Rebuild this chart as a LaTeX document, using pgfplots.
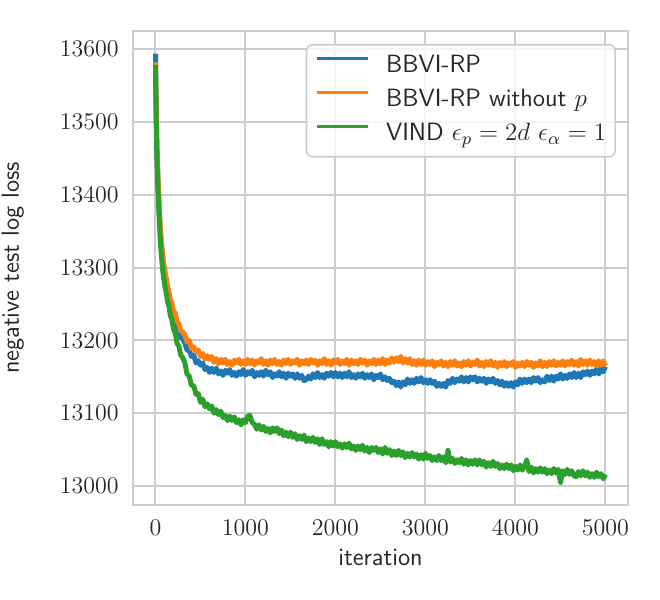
\documentclass[border=0pt]{standalone}
\usepackage{fix-cm}
\usepackage{pgfplots}
\pgfplotsset{compat=1.18}

\definecolor{tabblue}{RGB}{31,119,180}
\definecolor{taborange}{RGB}{255,127,14}
\definecolor{tabgreen}{RGB}{44,160,44}
\definecolor{gridgray}{RGB}{204,204,204}
\definecolor{txt}{RGB}{38,38,38}

\begin{document}
\begin{tikzpicture}
\begin{axis}[
  at={(0,0)}, anchor=south west,
  scale only axis,
  width=247.5pt, height=237pt,
  xmin=-250, xmax=5250,
  ymin=12974, ymax=13625,
  xtick={0,1000,2000,3000,4000,5000},
  ytick={13000,13100,13200,13300,13400,13500,13600},
  scaled ticks=false,
  /pgf/number format/1000 sep={},
  major tick length=0pt,
  grid=major,
  major grid style={draw=gridgray, line width=1pt},
  axis line style={draw=gridgray, line width=1pt},
  tick label style={font=\fontsize{12}{14}\selectfont, text=txt},
  yticklabel style={anchor=east, inner sep=0pt, xshift=-7pt},
  xticklabel style={anchor=north, inner sep=0pt, yshift=-7.5pt},
  xlabel={iteration},
  ylabel={negative test log loss},
  label style={font=\sffamily\fontsize{12.4}{15}\selectfont, text=txt},
  xlabel style={at={(axis description cs:0.5,0)}, anchor=base, yshift=-30.5pt},
  % the y label is already turned by 90 degrees, so its own y direction points left
  ylabel style={at={(axis description cs:0,0.5)}, anchor=base, yshift=57pt},
  legend style={
    at={(0.9757,0.9726)}, anchor=north east,
    draw=gridgray, line width=0.8pt, rounded corners=3pt,
    fill=white, fill opacity=0.8, text opacity=1,
    font=\sffamily\fontsize{12.5}{15}\selectfont, text=txt,
    inner xsep=4.5pt, inner ysep=5pt, row sep=5pt,
    nodes={inner sep=0pt, text height=9pt, text depth=3pt},
    /tikz/every odd column/.append style={column sep=8.5pt},
  },
  legend cell align=left,
  legend image code/.code={\draw[#1, line width=1.35pt] (0pt,4pt) -- (25.5pt,4pt);},
  every axis plot/.append style={line width=2.5pt, line join=round},
]

% BBVI-RP
\addplot[tabblue, no markers] coordinates {
(0,13594)(5,13540)(10,13498)(15,13468)(20,13446)(25,13428)(30,13412)(40,13382)(50,13358)(60,13340)(70,13325)(80,13313)(90,13303)(100,13297)(110,13285)(120,13282)(135,13268)(150,13263)(165,13250)(180,13247)(200,13234)(220,13230)(240,13218)(260,13216)(280,13205)(300,13202)
(325,13197)(350,13187)(375,13186)(400,13178)(425,13180)(450,13169)(475,13172)(500,13166)(525,13169)(550,13160)(575,13163)(600,13156)(625,13162)(650,13156)(675,13162)(700,13154)(725,13158)(750,13152)(775,13159)(800,13155)(825,13160)(850,13152)(875,13156)(900,13151)(925,13157)(950,13153)(975,13160)(1000,13152)
(1025,13157)(1050,13154)(1075,13159)(1100,13150)(1125,13156)(1150,13152)(1175,13157)(1200,13151)(1225,13159)(1250,13153)(1275,13157)(1300,13149)(1325,13154)(1350,13151)(1375,13157)(1400,13150)(1425,13155)(1450,13148)(1475,13155)(1500,13151)
(1525,13154)(1550,13148)(1575,13154)(1600,13148)(1625,13152)(1650,13145)(1675,13146)(1700,13151)(1725,13147)(1750,13154)(1775,13149)(1800,13156)(1825,13149)(1850,13153)(1875,13148)(1900,13155)(1925,13151)(1950,13156)(1975,13150)(2000,13156)
(2025,13150)(2050,13155)(2075,13149)(2100,13155)(2125,13150)(2150,13157)(2175,13149)(2200,13153)(2225,13148)(2250,13154)(2275,13150)(2300,13155)(2325,13148)(2350,13153)(2375,13149)(2400,13154)(2425,13146)(2450,13152)(2475,13149)(2500,13154)
(2525,13146)(2550,13150)(2575,13145)(2600,13148)(2625,13142)(2650,13144)(2675,13138)(2700,13143)(2725,13136)(2750,13143)(2775,13139)(2800,13147)(2825,13141)(2850,13146)(2875,13141)(2900,13148)(2925,13143)(2950,13149)(2975,13142)(3000,13146)
(3025,13141)(3050,13146)(3075,13141)(3100,13144)(3125,13137)(3150,13141)(3175,13137)(3200,13141)(3225,13136)(3250,13145)(3275,13141)(3300,13148)(3325,13142)(3350,13147)(3375,13144)(3400,13150)(3425,13143)(3450,13149)(3475,13143)(3500,13150)
(3525,13146)(3550,13150)(3575,13143)(3600,13148)(3625,13144)(3650,13148)(3675,13141)(3700,13147)(3725,13143)(3750,13148)(3775,13141)(3800,13145)(3825,13139)(3850,13144)(3875,13137)(3900,13142)(3925,13137)(3950,13142)(3975,13136)(4000,13143)
(4025,13139)(4050,13147)(4075,13141)(4100,13147)(4125,13142)(4150,13147)(4175,13142)(4200,13149)(4225,13144)(4250,13149)(4275,13142)(4300,13146)(4325,13143)(4350,13151)(4375,13145)(4400,13151)(4425,13144)(4450,13151)(4475,13147)(4500,13154)
(4525,13147)(4550,13152)(4575,13148)(4600,13154)(4625,13149)(4650,13156)(4675,13149)(4700,13155)(4725,13149)(4750,13157)(4775,13153)(4800,13158)(4825,13152)(4850,13158)(4875,13154)(4900,13161)(4925,13154)(4950,13161)(4975,13157)(5000,13164)
};
\addlegendentry{BBVI-RP}

% BBVI-RP without p
\addplot[taborange, no markers] coordinates {
(0,13582)(5,13535)(10,13500)(15,13470)(20,13450)(25,13432)(30,13415)(40,13386)(50,13363)(60,13344)(70,13329)(80,13318)(90,13306)(100,13300)(110,13290)(120,13286)(135,13273)(150,13267)(165,13255)(180,13252)(200,13240)(220,13237)(240,13226)(260,13223)(280,13213)(300,13212)
(325,13208)(350,13198)(375,13200)(400,13189)(425,13191)(450,13184)(475,13187)(500,13178)(525,13182)(550,13174)(575,13179)(600,13174)(625,13178)(650,13170)(675,13175)(700,13168)(725,13174)(750,13169)(775,13174)(800,13167)(825,13171)(850,13166)(875,13173)(900,13169)(925,13174)(950,13167)(975,13172)(1000,13167)
(1025,13174)(1050,13168)(1075,13173)(1100,13166)(1125,13172)(1150,13169)(1175,13175)(1200,13167)(1225,13172)(1250,13166)(1275,13173)(1300,13168)(1325,13174)(1350,13167)(1375,13171)(1400,13166)(1425,13173)(1450,13168)(1475,13174)(1500,13167)
(1525,13172)(1550,13169)(1575,13174)(1600,13166)(1625,13172)(1650,13168)(1675,13173)(1700,13167)(1725,13174)(1750,13169)(1775,13173)(1800,13166)(1825,13172)(1850,13168)(1875,13175)(1900,13167)(1925,13172)(1950,13166)(1975,13173)(2000,13169)
(2025,13174)(2050,13167)(2075,13172)(2100,13168)(2125,13174)(2150,13166)(2175,13173)(2200,13168)(2225,13172)(2250,13167)(2275,13174)(2300,13169)(2325,13173)(2350,13166)(2375,13172)(2400,13168)(2425,13174)(2450,13167)(2475,13173)(2500,13168)
(2525,13175)(2550,13167)(2575,13173)(2600,13169)(2625,13176)(2650,13170)(2675,13176)(2700,13171)(2725,13178)(2750,13169)(2775,13175)(2800,13169)(2825,13175)(2850,13167)(2875,13172)(2900,13166)(2925,13173)(2950,13167)(2975,13173)(3000,13166)
(3025,13171)(3050,13167)(3075,13172)(3100,13164)(3125,13170)(3150,13167)(3175,13172)(3200,13165)(3225,13170)(3250,13164)(3275,13171)(3300,13166)(3325,13172)(3350,13165)(3375,13169)(3400,13164)(3425,13171)(3450,13166)(3475,13172)(3500,13165)
(3525,13170)(3550,13167)(3575,13173)(3600,13165)(3625,13170)(3650,13164)(3675,13171)(3700,13166)(3725,13172)(3750,13165)(3775,13170)(3800,13163)(3825,13170)(3850,13165)(3875,13171)(3900,13164)(3925,13169)(3950,13166)(3975,13171)(4000,13163)
(4025,13169)(4050,13165)(4075,13170)(4100,13164)(4125,13171)(4150,13166)(4175,13170)(4200,13163)(4225,13169)(4250,13165)(4275,13172)(4300,13164)(4325,13170)(4350,13164)(4375,13171)(4400,13166)(4425,13172)(4450,13165)(4475,13170)(4500,13166)
(4525,13172)(4550,13165)(4575,13171)(4600,13167)(4625,13173)(4650,13166)(4675,13171)(4700,13165)(4725,13174)(4750,13167)(4775,13172)(4800,13166)(4825,13173)(4850,13167)(4875,13171)(4900,13165)(4925,13172)(4950,13166)(4975,13172)(5000,13165)
};
\addlegendentry{BBVI-RP without $p$}

% VIND
\addplot[tabgreen, no markers] coordinates {
(0,13578)(5,13525)(10,13485)(15,13455)(20,13432)(25,13415)(30,13400)(40,13370)(50,13345)(60,13325)(70,13310)(80,13297)(90,13287)(100,13279)(110,13270)(120,13265)(135,13253)(150,13247)(165,13234)(180,13230)(200,13216)(220,13210)(240,13196)(260,13192)(280,13180)(300,13177)
(325,13170)(350,13154)(375,13151)(400,13138)(425,13138)(450,13126)(475,13127)(500,13115)(525,13119)(550,13109)(575,13113)(600,13106)(625,13110)(650,13100)(675,13105)(700,13098)(725,13103)(750,13094)(775,13097)(800,13090)(825,13096)(850,13090)(875,13095)(900,13087)(925,13091)(950,13084)(975,13091)(1000,13087)
(1025,13096)(1050,13097)(1075,13087)(1100,13085)(1125,13078)(1150,13084)(1175,13077)(1200,13082)(1225,13075)(1250,13079)(1275,13073)(1300,13080)(1325,13075)(1350,13080)(1375,13072)(1400,13077)(1425,13069)(1450,13074)(1475,13068)(1500,13074)
(1525,13067)(1550,13072)(1575,13064)(1600,13069)(1625,13064)(1650,13070)(1675,13061)(1700,13066)(1725,13061)(1750,13067)(1775,13060)(1800,13065)(1825,13057)(1850,13065)(1875,13057)(1900,13061)(1925,13054)(1950,13061)(1975,13055)(2000,13061)
(2025,13054)(2050,13058)(2075,13052)(2100,13058)(2125,13053)(2150,13059)(2175,13051)(2200,13055)(2225,13049)(2250,13055)(2275,13050)(2300,13056)(2325,13048)(2350,13053)(2375,13046)(2400,13053)(2425,13049)(2450,13053)(2475,13046)(2500,13051)
(2525,13044)(2550,13053)(2575,13045)(2600,13050)(2625,13042)(2650,13048)(2675,13042)(2700,13049)(2725,13042)(2750,13047)(2775,13039)(2800,13045)(2825,13040)(2850,13046)(2875,13040)(2900,13044)(2925,13037)(2950,13043)(2975,13037)(3000,13045)
(3025,13038)(3050,13042)(3075,13035)(3100,13040)(3125,13035)(3150,13042)(3175,13035)(3200,13040)(3225,13032)(3250,13049)(3275,13033)(3300,13038)(3325,13031)(3350,13036)(3375,13032)(3400,13038)(3425,13030)(3450,13036)(3475,13029)(3500,13035)
(3525,13030)(3550,13036)(3575,13029)(3600,13036)(3625,13029)(3650,13034)(3675,13026)(3700,13032)(3725,13027)(3750,13034)(3775,13027)(3800,13031)(3825,13024)(3850,13029)(3875,13024)(3900,13030)(3925,13024)(3950,13029)(3975,13021)(4000,13027)
(4025,13022)(4050,13029)(4075,13022)(4100,13027)(4125,13036)(4150,13020)(4175,13026)(4200,13018)(4225,13024)(4250,13019)(4275,13025)(4300,13019)(4325,13024)(4350,13017)(4375,13022)(4400,13017)(4425,13024)(4450,13018)(4475,13023)(4500,13005)
(4525,13021)(4550,13016)(4575,13023)(4600,13016)(4625,13021)(4650,13014)(4675,13013)(4700,13020)(4725,13014)(4750,13021)(4775,13014)(4800,13019)(4825,13012)(4850,13017)(4875,13012)(4900,13019)(4925,13013)(4950,13017)(4975,13010)(5000,13016)
};
\addlegendentry{VIND $\epsilon_p = 2d$ $\epsilon_\alpha = 1$}

\end{axis}
\pgfresetboundingbox
\useasboundingbox (-66.5pt,-47.5pt) rectangle (263.5pt,252.5pt);
\end{tikzpicture}
\end{document}
